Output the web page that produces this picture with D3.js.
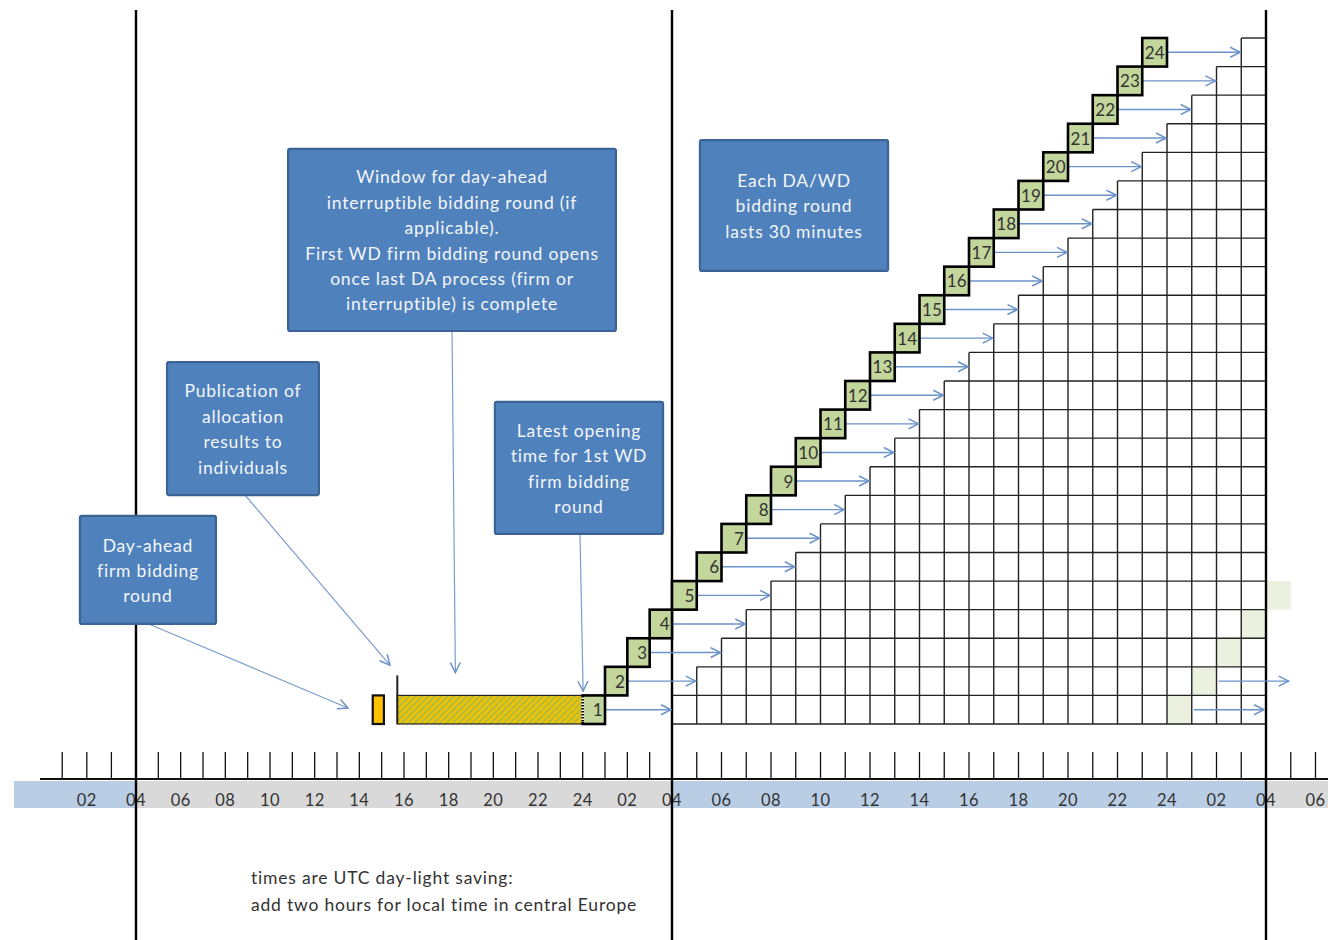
<!DOCTYPE html>
<html>
<head>
<meta charset="utf-8">
<script src="https://cdn.jsdelivr.net/npm/d3@7"></script>
<style>
  html, body { margin: 0; padding: 0; background: #fff; }
  svg { display: block; }
  text { font-family: Lato, "Open Sans", sans-serif; }
</style>
</head>
<body>
<svg id="chart" width="1328" height="940"></svg>
<script>
// ---------- data ----------
// hours are counted continuously from 00:00 of the day before the gas day
const tickHours = d3.range(1, 55);                       // hourly ticks
const labelHours = d3.range(2, 55, 2);                   // labelled ticks
const tickLabels = labelHours.map(h => String(((h - 1) % 24) + 1).padStart(2, "0"));
const dayBoundaries = [4, 28, 52];                        // 04:00 gas-day starts
const bandSegments = [[-10, 4, "wd"], [4, 28, "da"], [28, 52, "wd"], [52, 60, "da"]];
const daFirmRound = [14.6, 15.1];                         // day-ahead firm round
const publicationHour = 15.7;                             // publication of results
const interruptibleWindow = [15.7, 24];                   // DA interruptible window
const rounds = d3.range(1, 25);                           // WD bidding rounds 1..24
const roundStart = rounds.map(k => 23 + k);               // start hour of each round
const nextDayRows = [1, 2, 3, 4, 5];                      // next-day rounds shown pale
const nextDayArrowRows = [1, 2];

const boxTexts = [
  ["Day-ahead", "firm bidding", "round"],
  ["Publication of", "allocation", "results to", "individuals"],
  ["Window for day-ahead", "interruptible bidding round (if", "applicable).",
   "First WD firm bidding round opens", "once last DA process (firm or",
   "interruptible) is complete"],
  ["Latest opening", "time for 1st WD", "firm bidding", "round"],
  ["Each DA/WD", "bidding round", "lasts 30 minutes"]
];
// box extents in [hour, row] units: [h0, h1, rowTop, rowBottom]
const boxExtents = [
  [1.72, 7.58, 7.28, 3.50],
  [5.39, 12.19, 12.66, 8.01],
  [10.81, 25.49, 20.12, 13.75],
  [20.07, 27.60, 11.27, 6.65],
  [29.13, 36.73, 20.43, 15.85]
];
// connectors [hour, row] -> [hour, row]
const connectors = [
  [[4.57, 3.50], [13.49, 0.56]],
  [[8.88, 8.01], [15.37, 2.06]],
  [[18.15, 13.75], [18.30, 1.80]],
  [[23.88, 6.65], [24.02, 1.15]]
];
const noteLines = ["times are UTC day-light saving:", "add two hours for local time in central Europe"];

// ---------- scales ----------
const svg = d3.select("#chart");
const x = d3.scaleLinear()
  .domain([0, 4, 28, 52, 56])
  .range([37.6, 136, 672, 1266, 1365]);
const y = d3.scaleLinear().domain([0, 24]).range([724, 38]);

const axisY = 779, bandTop = 781, bandBot = 808;
const arrowCol = "#6b92c9";

// defs
const defs = svg.append("defs");
const pat = defs.append("pattern").attr("id", "hatch")
  .attr("width", 4.5).attr("height", 4.5)
  .attr("patternUnits", "userSpaceOnUse")
  .attr("patternTransform", "rotate(45)");
pat.append("rect").attr("width", 4.5).attr("height", 4.5).attr("fill", "#b5b93a");
pat.append("rect").attr("width", 2.3).attr("height", 4.5).attr("fill", "#f4c400");

defs.append("marker").attr("id", "arr")
  .attr("viewBox", "0 0 12 12").attr("refX", 11).attr("refY", 6)
  .attr("markerWidth", 12).attr("markerHeight", 12)
  .attr("markerUnits", "userSpaceOnUse").attr("orient", "auto")
  .append("path").attr("d", "M1,1 L11,6 L1,11")
  .attr("fill", "none").attr("stroke", arrowCol).attr("stroke-width", 1.5);

// ---------- band under axis ----------
svg.append("g").selectAll("rect").data(bandSegments).join("rect")
  .attr("x", d => Math.max(14, x(d[0])))
  .attr("width", d => Math.min(1328, x(d[1])) - Math.max(14, x(d[0])))
  .attr("y", bandTop).attr("height", bandBot - bandTop)
  .attr("fill", d => d[2] === "wd" ? "#b9cde5" : "#d9d9d9");

// axis line + ticks
svg.append("line").attr("x1", 40).attr("x2", 1328).attr("y1", axisY).attr("y2", axisY)
  .attr("stroke", "#111").attr("stroke-width", 1.8);
svg.append("g").selectAll("line").data(tickHours.filter(h => x(h) < 1328)).join("line")
  .attr("x1", d => x(d)).attr("x2", d => x(d))
  .attr("y1", 752).attr("y2", axisY)
  .attr("stroke", "#111").attr("stroke-width", 1.3);
svg.append("g").selectAll("text").data(labelHours.filter(h => x(h) < 1335)).join("text")
  .attr("x", d => x(d)).attr("y", 806)
  .attr("text-anchor", "middle").attr("font-size", 16.5).attr("letter-spacing", 0.4)
  .attr("fill", "#333")
  .text((d, i) => tickLabels[i]);

// ---------- pale next-day cells ----------
svg.append("g").selectAll("rect").data(nextDayRows).join("rect")
  .attr("x", r => x(47 + r)).attr("width", r => x(48 + r) - x(47 + r))
  .attr("y", r => y(r)).attr("height", r => y(r - 1) - y(r))
  .attr("fill", "#ebf1de");

// ---------- grid (triangle) ----------
const grid = svg.append("g").attr("stroke", "#222").attr("stroke-width", 1.4).attr("fill", "none");
grid.selectAll("line.h").data(d3.range(0, 25)).join("line").attr("class", "h")
  .attr("x1", r => x(28 + Math.max(0, r - 1))).attr("x2", x(52))
  .attr("y1", r => y(r)).attr("y2", r => y(r));
grid.selectAll("line.v").data(d3.range(1, 24)).join("line").attr("class", "v")
  .attr("x1", j => x(28 + j)).attr("x2", j => x(28 + j))
  .attr("y1", y(0)).attr("y2", j => y(j + 1));

// ---------- day boundary lines ----------
svg.append("g").selectAll("line").data(dayBoundaries).join("line")
  .attr("x1", d => x(d)).attr("x2", d => x(d)).attr("y1", 10).attr("y2", 940)
  .attr("stroke", "#000").attr("stroke-width", 2.4);

// ---------- day-ahead marks ----------
svg.append("rect")
  .attr("x", x(interruptibleWindow[0])).attr("width", x(interruptibleWindow[1]) - x(interruptibleWindow[0]))
  .attr("y", y(1)).attr("height", y(0) - y(1))
  .attr("fill", "url(#hatch)").attr("stroke", "#222").attr("stroke-width", 1.2);
svg.append("rect")
  .attr("x", x(daFirmRound[0])).attr("width", x(daFirmRound[1]) - x(daFirmRound[0]))
  .attr("y", y(1)).attr("height", y(0) - y(1))
  .attr("fill", "#ffc000").attr("stroke", "#111").attr("stroke-width", 2.2);
svg.append("line")
  .attr("x1", x(publicationHour)).attr("x2", x(publicationHour))
  .attr("y1", y(1.7)).attr("y2", y(0))
  .attr("stroke", "#222").attr("stroke-width", 2);

// ---------- round arrows ----------
svg.append("g").selectAll("line").data(rounds).join("line")
  .attr("x1", (k, i) => x(roundStart[i] + 1)).attr("x2", k => x(27 + k) - 1)
  .attr("y1", k => y(k - 0.5)).attr("y2", k => y(k - 0.5))
  .attr("stroke", arrowCol).attr("stroke-width", 1.4).attr("marker-end", "url(#arr)");
svg.append("g").selectAll("line").data(nextDayArrowRows).join("line")
  .attr("x1", r => x(48 + r) + 2).attr("x2", r => x(51 + r) - 2)
  .attr("y1", r => y(r - 0.5)).attr("y2", r => y(r - 0.5))
  .attr("stroke", arrowCol).attr("stroke-width", 1.4).attr("marker-end", "url(#arr)");

// ---------- round squares ----------
const sq = svg.append("g").selectAll("g").data(rounds).join("g");
sq.append("rect")
  .attr("x", (k, i) => x(roundStart[i])).attr("width", (k, i) => x(roundStart[i] + 1) - x(roundStart[i]))
  .attr("y", k => y(k)).attr("height", k => y(k - 1) - y(k))
  .attr("fill", "#c3d69b").attr("stroke", "#000").attr("stroke-width", 2.6);
sq.append("text")
  .attr("x", (k, i) => x(roundStart[i] + 1) - 2.5).attr("y", k => y(k - 0.5) + 6.5)
  .attr("text-anchor", "end").attr("font-size", 17).attr("fill", "#333")
  .text(k => k);
// dotted left edge of round 1 (joins hatched window)
svg.append("line")
  .attr("x1", x(roundStart[0])).attr("x2", x(roundStart[0]))
  .attr("y1", y(1) + 2).attr("y2", y(0) - 2)
  .attr("stroke", "#fff").attr("stroke-width", 2.8).attr("stroke-dasharray", "1.5,1.5");

// ---------- connectors ----------
svg.append("g").selectAll("line").data(connectors).join("line")
  .attr("x1", d => x(d[0][0])).attr("y1", d => y(d[0][1]))
  .attr("x2", d => x(d[1][0])).attr("y2", d => y(d[1][1]))
  .attr("stroke", "#7a9ccc").attr("stroke-width", 1.2).attr("marker-end", "url(#arr)");

// ---------- text boxes ----------
const boxes = svg.append("g").selectAll("g").data(boxTexts).join("g");
boxes.append("rect")
  .attr("x", (t, i) => x(boxExtents[i][0])).attr("y", (t, i) => y(boxExtents[i][2]))
  .attr("width", (t, i) => x(boxExtents[i][1]) - x(boxExtents[i][0]))
  .attr("height", (t, i) => y(boxExtents[i][3]) - y(boxExtents[i][2]))
  .attr("rx", 2)
  .attr("fill", "#4f81bd").attr("stroke", "#3b6494").attr("stroke-width", 2.2);
boxes.each(function(lines, i) {
  const e = boxExtents[i];
  const cx = (x(e[0]) + x(e[1])) / 2;
  const cy = (y(e[2]) + y(e[3])) / 2;
  const lh = 25.4;
  const y0 = cy - (lines.length - 1) * lh / 2;
  d3.select(this).selectAll("text").data(lines).join("text")
    .attr("x", cx).attr("y", (d, j) => y0 + j * lh + 7)
    .attr("text-anchor", "middle").attr("font-size", 17.5).attr("letter-spacing", 0.8)
    .attr("fill", "#f4f6fa")
    .text(d => d);
});

// ---------- note ----------
svg.append("g").selectAll("text").data(noteLines).join("text")
  .attr("x", x(9.15)).attr("y", (d, i) => 884 + i * 27)
  .attr("font-size", 17.5).attr("letter-spacing", 0.8).attr("fill", "#333")
  .text(d => d);
</script>
</body>
</html>
